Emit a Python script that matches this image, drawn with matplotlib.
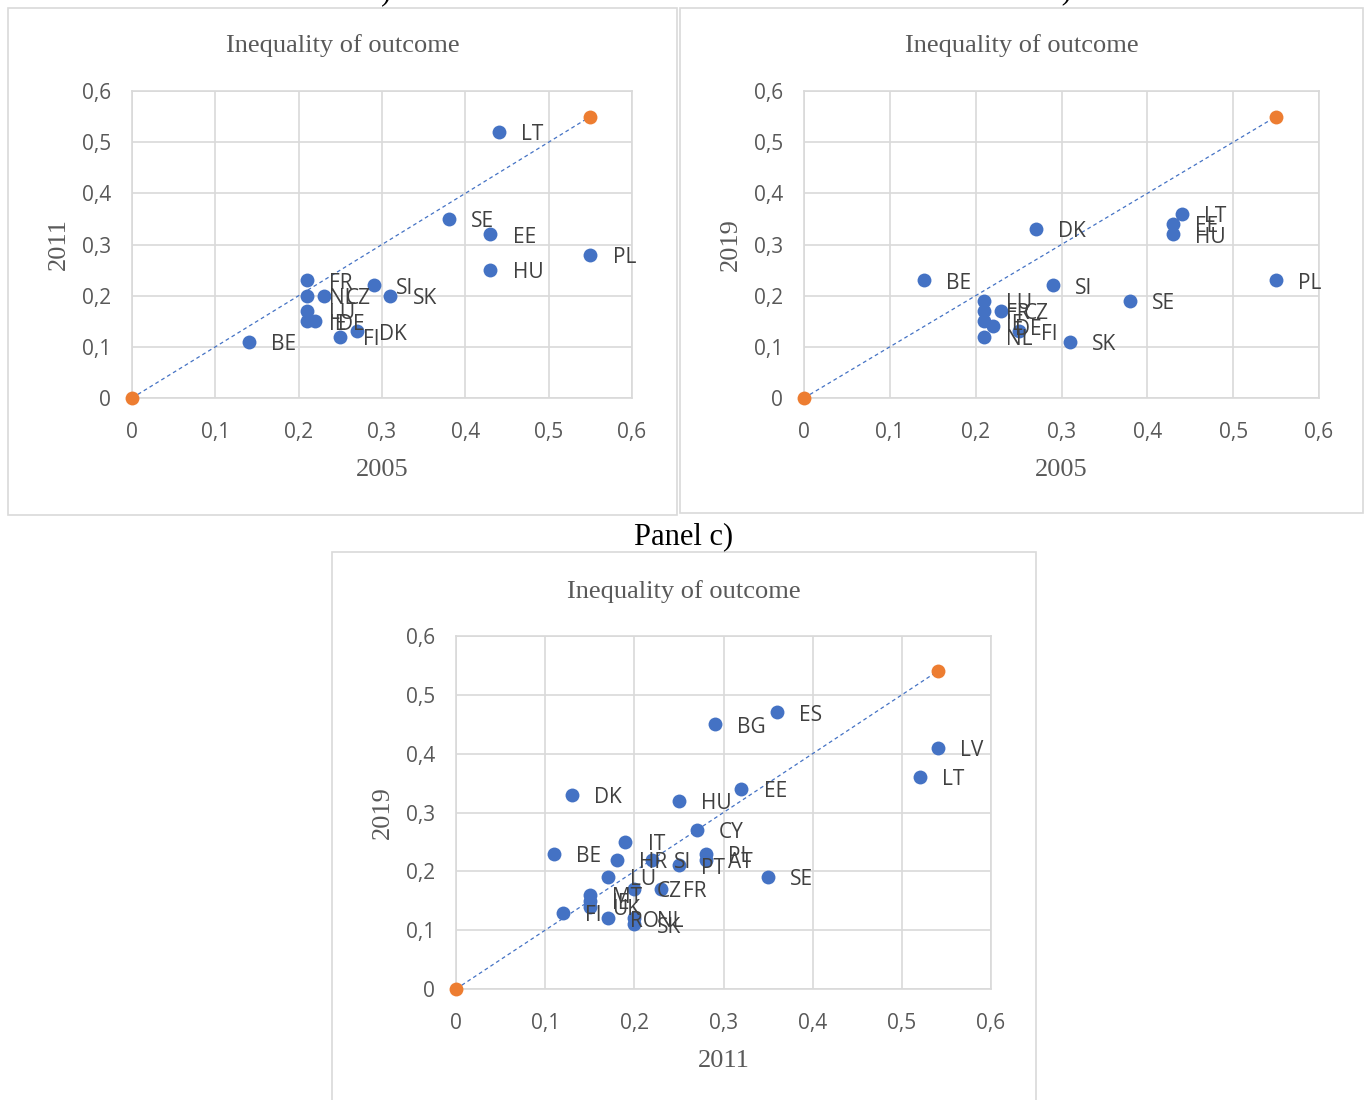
import numpy as np
import matplotlib
matplotlib.use('Agg')
import matplotlib.pyplot as plt
from matplotlib.patches import Rectangle
from matplotlib.ticker import FuncFormatter

# Panel a) 2005 vs 2011
namesA = ['LT', 'SE', 'EE', 'HU', 'PL', 'SI', 'SK', 'FR', 'NL', 'CZ', 'LU', 'IE', 'DE', 'FI', 'DK', 'BE']
xA = [0.44, 0.38, 0.43, 0.43, 0.55, 0.29, 0.31, 0.21, 0.21, 0.23, 0.21, 0.21, 0.22, 0.25, 0.27, 0.14]
yA = [0.52, 0.35, 0.32, 0.25, 0.28, 0.22, 0.20, 0.23, 0.20, 0.20, 0.17, 0.15, 0.15, 0.12, 0.13, 0.11]
refA = [0, 0.55]

# Panel b) 2005 vs 2019
namesB = ['LT', 'EE', 'HU', 'DK', 'BE', 'PL', 'SI', 'SE', 'SK', 'LU', 'FR', 'CZ', 'IE', 'DE', 'FI', 'NL']
xB = [0.44, 0.43, 0.43, 0.27, 0.14, 0.55, 0.29, 0.38, 0.31, 0.21, 0.21, 0.23, 0.21, 0.22, 0.25, 0.21]
yB = [0.36, 0.34, 0.32, 0.33, 0.23, 0.23, 0.22, 0.19, 0.11, 0.19, 0.17, 0.17, 0.15, 0.14, 0.13, 0.12]
refB = [0, 0.55]

# Panel c) 2011 vs 2019
namesC = ['ES', 'BG', 'LV', 'LT', 'DK', 'HU', 'EE', 'CY', 'BE', 'IT', 'HR', 'SI', 'PT', 'PL', 'AT',
          'LU', 'CZ', 'FR', 'SE', 'MT', 'IE', 'UK', 'FI', 'RO', 'NL', 'SK']
xC = [0.36, 0.29, 0.54, 0.52, 0.13, 0.25, 0.32, 0.27, 0.11, 0.19, 0.18, 0.22, 0.25, 0.28, 0.28,
      0.17, 0.20, 0.23, 0.35, 0.15, 0.15, 0.15, 0.12, 0.17, 0.20, 0.20]
yC = [0.47, 0.45, 0.41, 0.36, 0.33, 0.32, 0.34, 0.27, 0.23, 0.25, 0.22, 0.22, 0.21, 0.23, 0.22,
      0.19, 0.17, 0.17, 0.19, 0.16, 0.15, 0.14, 0.13, 0.12, 0.12, 0.11]
refC = [0, 0.54]

ticks = [0, 0.1, 0.2, 0.3, 0.4, 0.5, 0.6]

blue = '#4472C4'
orange = '#ED7D31'
gray = '#595959'
gridColor = '#D9D9D9'
serif = 'Liberation Serif'
sans = 'Open Sans'

W, H = 1365, 1100
fig = plt.figure(figsize=(W / 100, H / 100), dpi=100)


def px(x0, y0, x1, y1):
    # pixel box -> figure fraction [left, bottom, width, height]
    return [x0 / W, 1 - y1 / H, (x1 - x0) / W, (y1 - y0) / H]


def commaFmt(v, pos):
    if abs(v) < 1e-9:
        return '0'
    return ('%.1f' % v).replace('.', ',')


def drawPanel(box, frame, names, xs, ys, ref, xlab, ylab, titleY):
    fig.add_artist(Rectangle((frame[0] / W, 1 - frame[3] / H), (frame[2] - frame[0]) / W,
                             (frame[3] - frame[1]) / H, transform=fig.transFigure,
                             fill=False, edgecolor=gridColor, lw=1.2))
    ax = fig.add_axes(px(*box))
    ax.set_xlim(0, 0.6)
    ax.set_ylim(0, 0.6)
    ax.set_xticks(ticks)
    ax.set_yticks(ticks)
    ax.xaxis.set_major_formatter(FuncFormatter(commaFmt))
    ax.yaxis.set_major_formatter(FuncFormatter(commaFmt))
    ax.grid(True, color=gridColor, lw=1.2)
    ax.set_axisbelow(True)
    for s in ax.spines.values():
        s.set_color(gridColor)
        s.set_linewidth(1.2)
    ax.tick_params(length=0, pad=15, labelsize=15, labelcolor=gray)
    ax.tick_params(axis='x', pad=17)
    for lab in ax.get_xticklabels() + ax.get_yticklabels():
        lab.set_fontfamily(sans)

    ax.plot(ref, ref, '--', color=blue, lw=0.9, dashes=(3, 2.5), zorder=2)
    ax.scatter(xs, ys, s=100, color=blue, zorder=3, clip_on=False, linewidths=0)
    ax.scatter(ref, ref, s=100, color=orange, zorder=4, clip_on=False, linewidths=0)
    for n, x, y in zip(names, xs, ys):
        ax.annotate(n, (x, y), xytext=(16, -2), textcoords='offset points',
                    ha='left', va='center', fontsize=15, color='#404040', family=sans)

    ax.set_xlabel(xlab, family=serif, fontsize=19, color=gray, labelpad=12)
    ax.set_ylabel(ylab, family=serif, fontsize=19, color=gray, labelpad=9)
    cx = (frame[0] + frame[2]) / 2
    fig.text(cx / W, 1 - (titleY + 2) / H, 'Inequality of outcome', family=serif,
             fontsize=19, color=gray, ha='center', va='center')
    return ax


drawPanel((132, 91, 632, 398), (8, 8, 677, 515), namesA, xA, yA, refA, '2005', '2011', 44)
drawPanel((804, 91, 1319, 398), (680, 8, 1363, 513), namesB, xB, yB, refB, '2005', '2019', 44)
drawPanel((456, 636, 991, 989), (332, 552, 1036, 1110), namesC, xC, yC, refC, '2011', '2019', 590)

# panel captions (a and b are cut off at the top edge)
fig.text(342 / W, 1 + 8 / H, 'Panel a)', family=serif, fontsize=22, ha='center', va='center')
fig.text(1021 / W, 1 + 8 / H, 'Panel b)', family=serif, fontsize=22, ha='center', va='center')
fig.text(684 / W, 1 - 537 / H, 'Panel c)', family=serif, fontsize=22, ha='center', va='center')

fig.savefig('out.png', dpi=100)
